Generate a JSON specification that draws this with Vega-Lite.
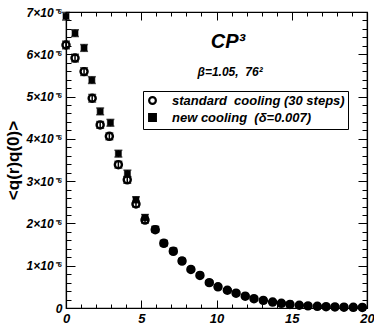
{
  "$schema": "https://vega.github.io/schema/vega-lite/v6.json",
  "width": 301,
  "height": 296,
  "autosize": "none",
  "padding": {"left": 66, "top": 12, "right": 7, "bottom": 17},
  "config": {
    "view": {"stroke": "black", "strokeWidth": 1.2},
    "font": "Liberation Sans",
    "axis": {"grid": false, "domainColor": "black", "domainWidth": 1.2, "tickColor": "black", "tickWidth": 1, "labelColor": "black", "titleColor": "black"},
    "legend": {"orient": "none", "legendX": 77, "legendY": 79, "strokeColor": "black", "fillColor": "white", "padding": 3, "labelFont": "Liberation Sans", "labelFontSize": 13, "labelFontStyle": "italic", "labelFontWeight": "bold", "labelColor": "black", "symbolSize": 45, "symbolStrokeColor": "black", "symbolStrokeWidth": 2.2, "labelOffset": 13, "rowPadding": 0, "labelLimit": 300}
  },
  "data": {
    "values": [
      {"r": 0, "q": 6.9e-6, "err": 0.09e-6, "series": "new cooling\u00a0\u00a0(δ=0.007)"},
      {"r": 0.6, "q": 6.5e-6, "err": 0.08e-6, "series": "new cooling\u00a0\u00a0(δ=0.007)"},
      {"r": 1.2, "q": 6.15e-6, "err": 0.08e-6, "series": "new cooling\u00a0\u00a0(δ=0.007)"},
      {"r": 1.72, "q": 5.39e-6, "err": 0.08e-6, "series": "new cooling\u00a0\u00a0(δ=0.007)"},
      {"r": 2.27, "q": 4.65e-6, "err": 0.08e-6, "series": "new cooling\u00a0\u00a0(δ=0.007)"},
      {"r": 2.95, "q": 4.38e-6, "err": 0.08e-6, "series": "new cooling\u00a0\u00a0(δ=0.007)"},
      {"r": 3.48, "q": 3.65e-6, "err": 0.08e-6, "series": "new cooling\u00a0\u00a0(δ=0.007)"},
      {"r": 4.08, "q": 3.18e-6, "err": 0.08e-6, "series": "new cooling\u00a0\u00a0(δ=0.007)"},
      {"r": 4.65, "q": 2.56e-6, "err": 0.07e-6, "series": "new cooling\u00a0\u00a0(δ=0.007)"},
      {"r": 5.25, "q": 2.14e-6, "err": 0.07e-6, "series": "new cooling\u00a0\u00a0(δ=0.007)"},
      {"r": 5.93, "q": 1.87e-6, "err": 0.06e-6, "series": "new cooling\u00a0\u00a0(δ=0.007)"},
      {"r": 6.5, "q": 1.54e-6, "err": 0.06e-6, "series": "new cooling\u00a0\u00a0(δ=0.007)"},
      {"r": 7.13, "q": 1.36e-6, "err": 0.05e-6, "series": "new cooling\u00a0\u00a0(δ=0.007)"},
      {"r": 7.71, "q": 1.12e-6, "err": 0.05e-6, "series": "new cooling\u00a0\u00a0(δ=0.007)"},
      {"r": 8.3, "q": 0.92e-6, "err": 0.04e-6, "series": "new cooling\u00a0\u00a0(δ=0.007)"},
      {"r": 8.9, "q": 0.78e-6, "err": 0.04e-6, "series": "new cooling\u00a0\u00a0(δ=0.007)"},
      {"r": 9.52, "q": 0.6e-6, "err": 0.04e-6, "series": "new cooling\u00a0\u00a0(δ=0.007)"},
      {"r": 10.1, "q": 0.5e-6, "err": 0.03e-6, "series": "new cooling\u00a0\u00a0(δ=0.007)"},
      {"r": 10.72, "q": 0.42e-6, "err": 0.03e-6, "series": "new cooling\u00a0\u00a0(δ=0.007)"},
      {"r": 11.3, "q": 0.35e-6, "err": 0.03e-6, "series": "new cooling\u00a0\u00a0(δ=0.007)"},
      {"r": 11.91, "q": 0.28e-6, "err": 0.02e-6, "series": "new cooling\u00a0\u00a0(δ=0.007)"},
      {"r": 12.49, "q": 0.22e-6, "err": 0.02e-6, "series": "new cooling\u00a0\u00a0(δ=0.007)"},
      {"r": 13.11, "q": 0.18e-6, "err": 0.02e-6, "series": "new cooling\u00a0\u00a0(δ=0.007)"},
      {"r": 13.73, "q": 0.14e-6, "err": 0.02e-6, "series": "new cooling\u00a0\u00a0(δ=0.007)"},
      {"r": 14.31, "q": 0.11e-6, "err": 0.02e-6, "series": "new cooling\u00a0\u00a0(δ=0.007)"},
      {"r": 14.88, "q": 0.08e-6, "err": 0.01e-6, "series": "new cooling\u00a0\u00a0(δ=0.007)"},
      {"r": 15.5, "q": 0.064e-6, "err": 0.01e-6, "series": "new cooling\u00a0\u00a0(δ=0.007)"},
      {"r": 16.08, "q": 0.047e-6, "err": 0.01e-6, "series": "new cooling\u00a0\u00a0(δ=0.007)"},
      {"r": 16.7, "q": 0.04e-6, "err": 0.01e-6, "series": "new cooling\u00a0\u00a0(δ=0.007)"},
      {"r": 17.28, "q": 0.033e-6, "err": 0.01e-6, "series": "new cooling\u00a0\u00a0(δ=0.007)"},
      {"r": 17.87, "q": 0.025e-6, "err": 0.01e-6, "series": "new cooling\u00a0\u00a0(δ=0.007)"},
      {"r": 18.47, "q": 0.022e-6, "err": 0.01e-6, "series": "new cooling\u00a0\u00a0(δ=0.007)"},
      {"r": 19.09, "q": 0.016e-6, "err": 0.01e-6, "series": "new cooling\u00a0\u00a0(δ=0.007)"},
      {"r": 19.69, "q": 0.015e-6, "err": 0.01e-6, "series": "new cooling\u00a0\u00a0(δ=0.007)"},
      {"r": 0, "q": 6.22e-6, "err": 0.09e-6, "series": "standard\u00a0\u00a0cooling (30 steps)"},
      {"r": 0.6, "q": 5.91e-6, "err": 0.09e-6, "series": "standard\u00a0\u00a0cooling (30 steps)"},
      {"r": 1.2, "q": 5.59e-6, "err": 0.09e-6, "series": "standard\u00a0\u00a0cooling (30 steps)"},
      {"r": 1.74, "q": 4.96e-6, "err": 0.09e-6, "series": "standard\u00a0\u00a0cooling (30 steps)"},
      {"r": 2.27, "q": 4.33e-6, "err": 0.08e-6, "series": "standard\u00a0\u00a0cooling (30 steps)"},
      {"r": 2.88, "q": 4.06e-6, "err": 0.08e-6, "series": "standard\u00a0\u00a0cooling (30 steps)"},
      {"r": 3.48, "q": 3.39e-6, "err": 0.08e-6, "series": "standard\u00a0\u00a0cooling (30 steps)"},
      {"r": 4.07, "q": 3.03e-6, "err": 0.08e-6, "series": "standard\u00a0\u00a0cooling (30 steps)"},
      {"r": 4.65, "q": 2.46e-6, "err": 0.07e-6, "series": "standard\u00a0\u00a0cooling (30 steps)"},
      {"r": 5.25, "q": 2.08e-6, "err": 0.07e-6, "series": "standard\u00a0\u00a0cooling (30 steps)"},
      {"r": 5.93, "q": 1.85e-6, "err": 0.06e-6, "series": "standard\u00a0\u00a0cooling (30 steps)"},
      {"r": 6.5, "q": 1.53e-6, "err": 0.06e-6, "series": "standard\u00a0\u00a0cooling (30 steps)"},
      {"r": 7.13, "q": 1.34e-6, "err": 0.05e-6, "series": "standard\u00a0\u00a0cooling (30 steps)"},
      {"r": 7.71, "q": 1.11e-6, "err": 0.05e-6, "series": "standard\u00a0\u00a0cooling (30 steps)"},
      {"r": 8.3, "q": 0.91e-6, "err": 0.04e-6, "series": "standard\u00a0\u00a0cooling (30 steps)"},
      {"r": 8.9, "q": 0.77e-6, "err": 0.04e-6, "series": "standard\u00a0\u00a0cooling (30 steps)"},
      {"r": 9.52, "q": 0.6e-6, "err": 0.04e-6, "series": "standard\u00a0\u00a0cooling (30 steps)"},
      {"r": 10.1, "q": 0.5e-6, "err": 0.03e-6, "series": "standard\u00a0\u00a0cooling (30 steps)"},
      {"r": 10.72, "q": 0.42e-6, "err": 0.03e-6, "series": "standard\u00a0\u00a0cooling (30 steps)"},
      {"r": 11.3, "q": 0.35e-6, "err": 0.03e-6, "series": "standard\u00a0\u00a0cooling (30 steps)"},
      {"r": 11.91, "q": 0.28e-6, "err": 0.02e-6, "series": "standard\u00a0\u00a0cooling (30 steps)"},
      {"r": 12.49, "q": 0.22e-6, "err": 0.02e-6, "series": "standard\u00a0\u00a0cooling (30 steps)"},
      {"r": 13.11, "q": 0.18e-6, "err": 0.02e-6, "series": "standard\u00a0\u00a0cooling (30 steps)"},
      {"r": 13.73, "q": 0.14e-6, "err": 0.02e-6, "series": "standard\u00a0\u00a0cooling (30 steps)"},
      {"r": 14.31, "q": 0.11e-6, "err": 0.02e-6, "series": "standard\u00a0\u00a0cooling (30 steps)"},
      {"r": 14.88, "q": 0.085e-6, "err": 0.01e-6, "series": "standard\u00a0\u00a0cooling (30 steps)"},
      {"r": 15.5, "q": 0.065e-6, "err": 0.01e-6, "series": "standard\u00a0\u00a0cooling (30 steps)"},
      {"r": 16.08, "q": 0.05e-6, "err": 0.01e-6, "series": "standard\u00a0\u00a0cooling (30 steps)"},
      {"r": 16.7, "q": 0.04e-6, "err": 0.01e-6, "series": "standard\u00a0\u00a0cooling (30 steps)"},
      {"r": 17.28, "q": 0.032e-6, "err": 0.01e-6, "series": "standard\u00a0\u00a0cooling (30 steps)"},
      {"r": 17.87, "q": 0.025e-6, "err": 0.01e-6, "series": "standard\u00a0\u00a0cooling (30 steps)"},
      {"r": 18.47, "q": 0.02e-6, "err": 0.01e-6, "series": "standard\u00a0\u00a0cooling (30 steps)"},
      {"r": 19.09, "q": 0.016e-6, "err": 0.01e-6, "series": "standard\u00a0\u00a0cooling (30 steps)"},
      {"r": 19.69, "q": 0.014e-6, "err": 0.01e-6, "series": "standard\u00a0\u00a0cooling (30 steps)"}
    ]
  },
  "layer": [
    {
      "mark": {"type": "point", "opacity": 1},
      "encoding": {
        "x": {"field": "r", "type": "quantitative", "scale": {"domain": [0, 20], "nice": false},
          "axis": {"orient": "bottom", "values": [0, 5, 10, 15, 20], "tickSize": -8, "labelPadding": 12, "labelFont": "Liberation Sans", "labelFontSize": 13, "labelFontStyle": "italic", "labelFontWeight": "bold", "title": null, "labelFlush": false, "labelOverlap": false}},
        "y": {"field": "q", "type": "quantitative", "scale": {"domain": [0, 7e-6], "nice": false, "zero": true},
          "axis": {"orient": "left", "values": [0, 1e-6, 2e-6, 3e-6, 4e-6, 5e-6, 6e-6, 7e-6], "tickSize": -9, "labelPadding": 13,
            "labelExpr": "datum.value == 0 ? '0' : format(datum.value * 1e6, '.0f') + '×10⁻⁶'",
            "labelFont": "Liberation Sans", "labelFontSize": 12, "labelFontStyle": "italic", "labelFontWeight": "bold", "labelOverlap": false, "labelFlush": false,
            "title": "<q(r)q(0)>", "titleFont": "Liberation Sans", "titleFontSize": 17, "titleFontWeight": "bold", "titlePadding": 4}},
        "fill": {"field": "series", "type": "nominal", "title": null,
          "scale": {"domain": ["standard\u00a0\u00a0cooling (30 steps)", "new cooling\u00a0\u00a0(δ=0.007)"], "range": ["white", "black"]}},
        "stroke": {"field": "series", "type": "nominal", "title": null,
          "scale": {"domain": ["standard\u00a0\u00a0cooling (30 steps)", "new cooling\u00a0\u00a0(δ=0.007)"], "range": ["black", "black"]}},
        "shape": {"field": "series", "type": "nominal", "title": null,
          "scale": {"domain": ["standard\u00a0\u00a0cooling (30 steps)", "new cooling\u00a0\u00a0(δ=0.007)"], "range": ["circle", "square"]}},
        "size": {"condition": {"test": "datum.series == 'new cooling\u00a0\u00a0(δ=0.007)'", "value": 36}, "value": 50},
        "strokeWidth": {"condition": {"test": "datum.series == 'new cooling\u00a0\u00a0(δ=0.007)'", "value": 0.6}, "value": 2.4},
        "fillOpacity": {"condition": {"test": "datum.series == 'new cooling\u00a0\u00a0(δ=0.007)'", "value": 1}, "value": 0}
      }
    },
    {
      "mark": {"type": "errorbar", "color": "black", "thickness": 1.5, "ticks": {"size": 8}},
      "encoding": {
        "x": {"field": "r", "type": "quantitative", "scale": {"domain": [0, 20], "nice": false}, "axis": null},
        "y": {"field": "q", "type": "quantitative", "scale": {"domain": [0, 7e-6], "nice": false}, "axis": null},
        "yError": {"field": "err"}
      }
    },
    {
      "mark": {"type": "point", "opacity": 0},
      "encoding": {
        "x": {"field": "r", "type": "quantitative", "scale": {"domain": [0, 20], "nice": false},
          "axis": {"orient": "bottom", "values": [0,1,2,3,4,5,6,7,8,9,10,11,12,13,14,15,16,17,18,19,20], "tickSize": -4, "labels": false, "domain": false, "title": null}},
        "y": {"field": "q", "type": "quantitative", "scale": {"domain": [0, 7e-6], "nice": false},
          "axis": {"orient": "left", "values": [0,2e-7,4e-7,6e-7,8e-7,1e-6,1.2e-6,1.4e-6,1.6e-6,1.8e-6,2e-6,2.2e-6,2.4e-6,2.6e-6,2.8e-6,3e-6,3.2e-6,3.4e-6,3.6e-6,3.8e-6,4e-6,4.2e-6,4.4e-6,4.6e-6,4.8e-6,5e-6,5.2e-6,5.4e-6,5.6e-6,5.8e-6,6e-6,6.2e-6,6.4e-6,6.6e-6,6.8e-6,7e-6], "tickSize": -5, "labels": false, "domain": false, "title": null}}
      }
    },
    {
      "mark": {"type": "point", "opacity": 0},
      "encoding": {
        "x": {"field": "r", "type": "quantitative", "scale": {"domain": [0, 20], "nice": false},
          "axis": {"orient": "top", "values": [0, 5, 10, 15, 20], "tickSize": -8, "labels": false, "title": null}},
        "y": {"field": "q", "type": "quantitative", "scale": {"domain": [0, 7e-6], "nice": false},
          "axis": {"orient": "right", "values": [0, 1e-6, 2e-6, 3e-6, 4e-6, 5e-6, 6e-6, 7e-6], "tickSize": -9, "labels": false, "title": null}}
      }
    },
    {
      "mark": {"type": "point", "opacity": 0},
      "encoding": {
        "x": {"field": "r", "type": "quantitative", "scale": {"domain": [0, 20], "nice": false},
          "axis": {"orient": "top", "values": [0,1,2,3,4,5,6,7,8,9,10,11,12,13,14,15,16,17,18,19,20], "tickSize": -4, "labels": false, "domain": false, "title": null}},
        "y": {"field": "q", "type": "quantitative", "scale": {"domain": [0, 7e-6], "nice": false},
          "axis": {"orient": "right", "values": [0,2e-7,4e-7,6e-7,8e-7,1e-6,1.2e-6,1.4e-6,1.6e-6,1.8e-6,2e-6,2.2e-6,2.4e-6,2.6e-6,2.8e-6,3e-6,3.2e-6,3.4e-6,3.6e-6,3.8e-6,4e-6,4.2e-6,4.4e-6,4.6e-6,4.8e-6,5e-6,5.2e-6,5.4e-6,5.6e-6,5.8e-6,6e-6,6.2e-6,6.4e-6,6.6e-6,6.8e-6,7e-6], "tickSize": -5, "labels": false, "domain": false, "title": null}}
      }
    },
    {
      "data": {"values": [{}]},
      "mark": {"type": "text", "font": "Liberation Sans", "fontSize": 20, "fontStyle": "italic", "fontWeight": "bold", "color": "black"},
      "encoding": {
        "x": {"datum": 10.76, "type": "quantitative", "scale": {"domain": [0, 20], "nice": false}, "axis": null},
        "y": {"datum": 6.29e-6, "type": "quantitative", "scale": {"domain": [0, 7e-6], "nice": false}, "axis": null},
        "text": {"value": "CP³"}
      }
    },
    {
      "data": {"values": [{}]},
      "mark": {"type": "text", "font": "Liberation Sans", "fontSize": 12, "fontStyle": "italic", "fontWeight": "bold", "color": "black"},
      "encoding": {
        "x": {"datum": 10.9, "type": "quantitative", "scale": {"domain": [0, 20], "nice": false}, "axis": null},
        "y": {"datum": 5.58e-6, "type": "quantitative", "scale": {"domain": [0, 7e-6], "nice": false}, "axis": null},
        "text": {"value": "β=1.05,\u00a0\u00a076²"}
      }
    }
  ]
}
